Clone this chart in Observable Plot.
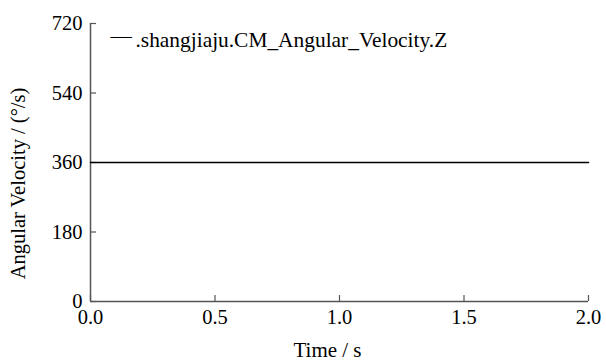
<!DOCTYPE html>
<html>
<head>
<meta charset="utf-8">
<script src="https://cdn.jsdelivr.net/npm/d3@7"></script>
<script src="https://cdn.jsdelivr.net/npm/@observablehq/plot@0.6"></script>
<style>
  html, body { margin: 0; padding: 0; background: #fff; }
  #chart svg { display: block; font-family: "Liberation Serif", "Times New Roman", Times, serif !important; }
  #chart svg text { font-family: "Liberation Serif", "Times New Roman", Times, serif !important; }
</style>
</head>
<body>
<div id="chart"></div>
<script>
const time = [0, 2];
const angularVelocity = [360, 360];
const xTicks = [0, 0.5, 1, 1.5, 2];
const yTicks = [0, 180, 360, 540, 720];
const seriesName = ".shangjiaju.CM_Angular_Velocity.Z";
const xLabel = "Time / s";
const yLabel = "Angular Velocity / (°/s)";

const data = time.map((t, i) => ({t, v: angularVelocity[i]}));
const W = 606, H = 363, mL = 90, mR = 18, mT = 23, mB = 62;
const innerW = W - mL - mR, innerH = H - mT - mB;
const axisColor = "#555";

const chart = Plot.plot({
  width: W,
  height: H,
  marginLeft: mL,
  marginRight: mR,
  marginTop: mT,
  marginBottom: mB,
  style: {fontSize: "20px", color: "#000", background: "#fff"},
  x: {domain: [0, 2]},
  y: {domain: [0, 720]},
  marks: [
    Plot.axisX({ticks: xTicks, tickSize: 0, tickPadding: 8, tickFormat: d3.format(".1f"), fontSize: 20.5, label: null}),
    Plot.axisY({ticks: yTicks, tickSize: 0, tickPadding: 8, tickFormat: d => String(d), fontSize: 20.5, label: null}),
    Plot.text([xLabel], {text: d => d, frameAnchor: "bottom", textAnchor: "middle", dx: -12, dy: 49, lineAnchor: "middle", fontSize: 21, fill: "#000"}),
    Plot.text([yLabel], {text: d => d, frameAnchor: "left", textAnchor: "middle", rotate: -90, dx: -72, dy: 21, lineAnchor: "middle", fontSize: 20.5, fill: "#000"}),
    Plot.tickX(xTicks, {x: d => d, stroke: axisColor, strokeWidth: 1.2, insetTop: innerH - 6}),
    Plot.tickY(yTicks, {y: d => d, stroke: axisColor, strokeWidth: 1.2, insetRight: innerW - 6}),
    Plot.ruleX([0], {stroke: axisColor, strokeWidth: 1.5}),
    Plot.ruleY([0], {stroke: axisColor, strokeWidth: 1.5}),
    Plot.line(data, {x: "t", y: "v", stroke: "#000", strokeWidth: 1.6}),
    Plot.text([seriesName], {text: d => d, frameAnchor: "top-left", dx: 45, dy: 17, textAnchor: "start", lineAnchor: "middle", fontSize: 21.4, fill: "#000"}),
    Plot.text(["—"], {text: d => d, frameAnchor: "top-left", dx: 20, dy: 13, textAnchor: "start", lineAnchor: "middle", fontSize: 21.4, fill: "#000"})
  ]
});
document.getElementById("chart").appendChild(chart);
</script>
</body>
</html>
